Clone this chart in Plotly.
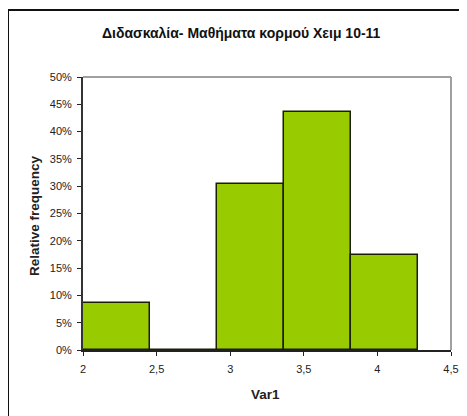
import plotly.graph_objects as go

# Data
bin_starts = [2.0, 2.455, 2.91, 3.365, 3.82]
bin_width = 0.455
rel_freq = [0.087, 0.0, 0.304, 0.435, 0.174]
x_ticks = [2, 2.5, 3, 3.5, 4, 4.5]
x_tick_labels = ["2", "2,5", "3", "3,5", "4", "4,5"]
y_ticks = [0, 0.05, 0.10, 0.15, 0.20, 0.25, 0.30, 0.35, 0.40, 0.45, 0.50]
y_tick_labels = ["0%", "5%", "10%", "15%", "20%", "25%", "30%", "35%", "40%", "45%", "50%"]
title_text = "Διδασκαλία- Μαθήματα κορμού Χειμ 10-11"
x_title = "Var1"
y_title = "Relative frequency"

OFF = 8  # page body margin
W, H = 459, 408
ml, mt = 83 - OFF, 77 - OFF
mr = W - (451 - OFF)
mb = H - (350 - OFF)
pw, ph = W - ml - mr, H - mt - mb

def px_x(p):
    return (p - OFF - ml) / pw

def px_y(p):
    return (H - mb - (p - OFF)) / ph

FONT = "Liberation Sans, Arial, sans-serif"

fig = go.Figure()
fig.add_trace(go.Bar(
    x=bin_starts, y=rel_freq, width=[bin_width] * len(bin_starts), offset=0,
    marker=dict(color="#99CC00", line=dict(color="#1a1f00", width=1.5)),
    showlegend=False, hoverinfo="skip",
))

axis_common = dict(showgrid=False, zeroline=False, automargin=False)
fig.update_layout(
    width=W, height=H,
    margin=dict(l=ml, r=mr, t=mt, b=mb, autoexpand=False),
    paper_bgcolor="white", plot_bgcolor="white",
    font=dict(family=FONT, size=11, color="#222222"),
    bargap=0,
    xaxis=dict(range=[2, 4.5], tickvals=x_ticks, ticktext=x_tick_labels,
               ticks="outside", ticklen=4, tickwidth=1, tickcolor="#222222",
               showline=True, linecolor="#222222", linewidth=2,
               tickfont=dict(size=11), ticklabelstandoff=4, **axis_common),
    yaxis=dict(range=[0, 0.5], tickvals=y_ticks, ticktext=y_tick_labels,
               ticks="outside", ticklen=4, tickwidth=1, tickcolor="#222222",
               showline=True, linecolor="#333333", linewidth=2,
               tickfont=dict(size=11), ticklabelstandoff=3, **axis_common),
    xaxis2=dict(range=[2, 4.5], tickvals=x_ticks, overlaying="x", anchor="y",
                side="bottom", showticklabels=False, ticks="inside", ticklen=4,
                tickwidth=1, tickcolor="#222222", showline=False, **axis_common),
    yaxis2=dict(range=[0, 0.5], tickvals=y_ticks, overlaying="y", anchor="x",
                side="left", showticklabels=False, ticks="inside", ticklen=4,
                tickwidth=1, tickcolor="#222222", showline=False, **axis_common),
)

shapes = [
    # gray plot-area border (top and right)
    dict(type="line", xref="paper", yref="paper", x0=0, x1=1, y0=1, y1=1,
         line=dict(color="#A0A0A0", width=2)),
    dict(type="line", xref="paper", yref="paper", x0=1, x1=1, y0=0, y1=1,
         line=dict(color="#A0A0A0", width=2)),
    # outer chart border (top and left, extending beyond view)
    dict(type="line", xref="paper", yref="paper", x0=px_x(8), x1=px_x(480),
         y0=px_y(10), y1=px_y(10), line=dict(color="#111111", width=2)),
    dict(type="line", xref="paper", yref="paper", x0=px_x(8), x1=px_x(8),
         y0=px_y(10), y1=px_y(430), line=dict(color="#111111", width=2)),
]
fig.update_layout(shapes=shapes)

fig.add_annotation(text="<b>" + title_text + "</b>", xref="paper", yref="paper",
                   x=px_x(241), y=px_y(33), showarrow=False,
                   font=dict(size=14, color="#111111"), xanchor="center", yanchor="middle")
fig.add_annotation(text="<b>" + x_title + "</b>", xref="paper", yref="paper",
                   x=px_x(265), y=px_y(394), showarrow=False,
                   font=dict(size=13.5, color="#222222"), xanchor="center", yanchor="middle")
fig.add_annotation(text="<b>" + y_title + "</b>", xref="paper", yref="paper",
                   x=px_x(34), y=px_y(216), showarrow=False, textangle=-90,
                   font=dict(size=13.5, color="#222222"), xanchor="center", yanchor="middle")

fig.write_html("out.html")
